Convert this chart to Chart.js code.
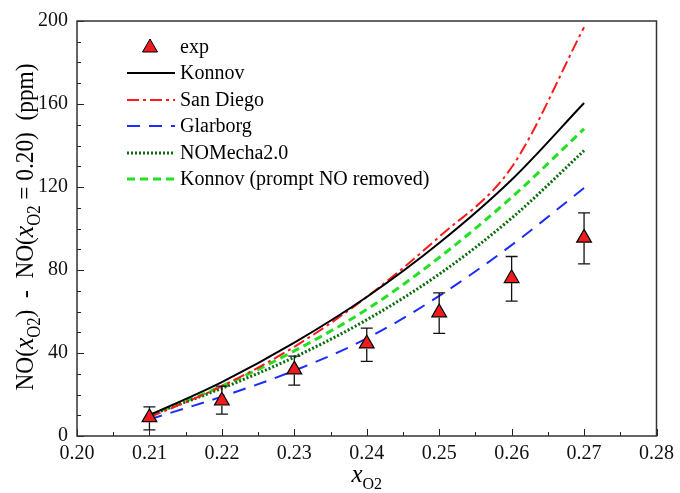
<!DOCTYPE html>
<html>
<head>
<meta charset="utf-8">
<script src="https://cdn.jsdelivr.net/npm/chart.js@4/dist/chart.umd.min.js"></script>
<style>
html,body{margin:0;padding:0;background:#fff;}
#wrap{width:680px;height:493px;position:relative;}
</style>
</head>
<body>
<div id="wrap"><canvas id="c" width="680" height="493"></canvas></div>
<script>
// ---- data ----
const xO2 = [0.21, 0.22, 0.23, 0.24, 0.25, 0.26, 0.27];
const expVals = [9, 17, 32, 44.5, 59.5, 76, 95.5];
const expLow = [3, 10.5, 24.5, 36, 49.5, 65, 83];
const expHigh = [14, 24, 38.5, 52, 69, 86.5, 107.5];
const konnov = [10, 26, 45, 67, 93, 123.5, 160.5];
const sanDiego = [9, 24, 43, 67, 96, 129.5, 197];
const glarborg = [8, 19, 31.5, 47, 67.5, 92, 119.5];
const nomecha = [10, 23, 38, 56, 78, 105, 137.5];
const konnovNoPrompt = [10, 24, 41, 61, 86, 115, 148];
const seriesNames = ["exp", "Konnov", "San Diego", "Glarborg", "NOMecha2.0", "Konnov (prompt NO removed)"];
const xTicksMajor = [0.20, 0.21, 0.22, 0.23, 0.24, 0.25, 0.26, 0.27, 0.28];
const yTicksMajor = [0, 40, 80, 120, 160, 200];

const SERIF = "'Liberation Serif', 'DejaVu Serif', serif";
const pts = arr => xO2.map((x, i) => ({x: x, y: arr[i]}));

function lineDs(label, data, color, dash, width) {
  return {label, data: pts(data), borderColor: color, backgroundColor: color,
    borderDash: dash, borderWidth: width, pointRadius: 0, showLine: true,
    fill: false, cubicInterpolationMode: 'monotone', order: 1};
}

const datasets = [
  {label: seriesNames[0], data: pts(expVals), showLine: false, pointStyle: 'triangle',
   pointRadius: 8.5, pointHoverRadius: 8.5, backgroundColor: '#ee1c1c', borderColor: '#000',
   borderWidth: 1.2, order: 0},
  lineDs(seriesNames[1], konnov, '#000000', [], 2),
  lineDs(seriesNames[2], sanDiego, '#ff1a1a', [12, 4, 3, 4], 2),
  lineDs(seriesNames[3], glarborg, '#1a2cff', [13, 9], 2),
  lineDs(seriesNames[4], nomecha, '#0b6b0b', [2, 2], 3),
  lineDs(seriesNames[5], konnovNoPrompt, '#22e022', [8, 5], 3)
];

const decor = {
  id: 'decor',
  beforeDatasetsDraw(chart) {
    const {ctx, chartArea: a, scales: {x, y}} = chart;
    ctx.save();
    ctx.strokeStyle = '#222';
    ctx.lineWidth = 1;
    for (let k = 0; k <= 16; k++) {
      const v = 0.20 + k * 0.005;
      const px = Math.round(x.getPixelForValue(v)) + 0.5;
      const L = (k % 2 === 0) ? 7 : 4;
      ctx.beginPath(); ctx.moveTo(px, a.bottom); ctx.lineTo(px, a.bottom - L); ctx.stroke();
    }
    for (let v = 0; v <= 200; v += 10) {
      const py = Math.round(y.getPixelForValue(v)) + 0.5;
      const L = (v % 40 === 0) ? 7 : 4;
      ctx.beginPath(); ctx.moveTo(a.left, py); ctx.lineTo(a.left + L, py); ctx.stroke();
    }
    ctx.restore();
  },
  afterDatasetsDraw(chart) {
    const {ctx, chartArea: a, scales: {x, y}} = chart;
    ctx.save();
    // error bars
    ctx.strokeStyle = '#111';
    ctx.lineWidth = 1.3;
    xO2.forEach((xv, i) => {
      const px = x.getPixelForValue(xv);
      const yl = y.getPixelForValue(expLow[i]);
      const yh = y.getPixelForValue(expHigh[i]);
      const yc = y.getPixelForValue(expVals[i]);
      ctx.beginPath();
      ctx.moveTo(px, yh); ctx.lineTo(px, yc - 8.5);
      ctx.moveTo(px, yc + 5); ctx.lineTo(px, yl);
      ctx.moveTo(px - 6, yh); ctx.lineTo(px + 6, yh);
      ctx.moveTo(px - 6, yl); ctx.lineTo(px + 6, yl);
      ctx.stroke();
    });
    // frame
    ctx.strokeStyle = '#333';
    ctx.lineWidth = 1.5;
    ctx.strokeRect(a.left, a.top, a.right - a.left, a.bottom - a.top);

    // legend
    const rowY = [47, 73, 100, 126, 153, 179];
    ctx.font = '20px ' + SERIF;
    ctx.fillStyle = '#000';
    ctx.textBaseline = 'middle';
    ctx.textAlign = 'left';
    chart.data.datasets.forEach((ds, i) => {
      const yy = rowY[i];
      if (i === 0) {
        ctx.beginPath();
        ctx.moveTo(150, yy - 8); ctx.lineTo(157.5, yy + 5); ctx.lineTo(142.5, yy + 5); ctx.closePath();
        ctx.fillStyle = ds.backgroundColor; ctx.fill();
        ctx.strokeStyle = '#000'; ctx.lineWidth = 1; ctx.stroke();
      } else {
        ctx.beginPath();
        ctx.setLineDash(ds.borderDash);
        ctx.strokeStyle = ds.borderColor; ctx.lineWidth = ds.borderWidth;
        ctx.moveTo(127, yy); ctx.lineTo(175, yy); ctx.stroke();
        ctx.setLineDash([]);
      }
      ctx.fillStyle = '#000';
      ctx.fillText(ds.label, 180, yy + 1);
    });

    const drawRich = (parts, startX, baseY) => {
      let cx = startX;
      parts.forEach(p => {
        ctx.font = p.f;
        ctx.fillText(p.t, cx, baseY + (p.dy || 0));
        cx += ctx.measureText(p.t).width;
      });
      return cx;
    };
    const measureRich = parts => parts.reduce((s, p) => { ctx.font = p.f; return s + ctx.measureText(p.t).width; }, 0);
    ctx.textBaseline = 'alphabetic';

    // x title
    const xt = [{t: 'x', f: 'italic 25px ' + SERIF}, {t: 'O2', f: '16px ' + SERIF, dy: 7}];
    const xw = measureRich(xt);
    drawRich(xt, (a.left + a.right) / 2 - xw / 2, 482);

    // y title
    const R = '21px ' + SERIF, I = 'italic 23px ' + SERIF, S = '15px ' + SERIF;
    const yt = [
      {t: 'NO(', f: R}, {t: 'x', f: I}, {t: 'O2', f: S, dy: 6}, {t: ')  -  NO(', f: R},
      {t: 'x', f: I}, {t: 'O2', f: S, dy: 6}, {t: ' = 0.20)  (ppm)', f: R}
    ];
    const yw = measureRich(yt);
    const target = 327;
    ctx.translate(33, 227);
    ctx.rotate(-Math.PI / 2);
    ctx.scale(target / yw, 1.2);
    drawRich(yt, -yw / 2, 0);
    ctx.restore();
  }
};

new Chart(document.getElementById('c'), {
  type: 'scatter',
  data: {datasets},
  options: {
    responsive: false,
    animation: false,
    devicePixelRatio: 1,
    layout: {padding: {top: 20, right: 20, left: 0, bottom: 0}},
    plugins: {legend: {display: false}, tooltip: {enabled: false}},
    scales: {
      x: {
        type: 'linear', min: 0.20, max: 0.28,
        afterBuildTicks: s => { s.ticks = xTicksMajor.map(v => ({value: v})); },
        afterFit: s => { s.height = 57; },
        grid: {display: false, drawTicks: false},
        border: {display: false},
        ticks: {color: '#111', font: {family: SERIF, size: 20}, padding: 6,
          callback: v => Number(v).toFixed(2)}
      },
      y: {
        type: 'linear', min: 0, max: 200,
        afterBuildTicks: s => { s.ticks = yTicksMajor.map(v => ({value: v})); },
        afterFit: s => { s.width = 77; },
        grid: {display: false, drawTicks: false},
        border: {display: false},
        ticks: {color: '#111', font: {family: SERIF, size: 20}, padding: 9}
      }
    }
  },
  plugins: [decor]
});
</script>
</body>
</html>
